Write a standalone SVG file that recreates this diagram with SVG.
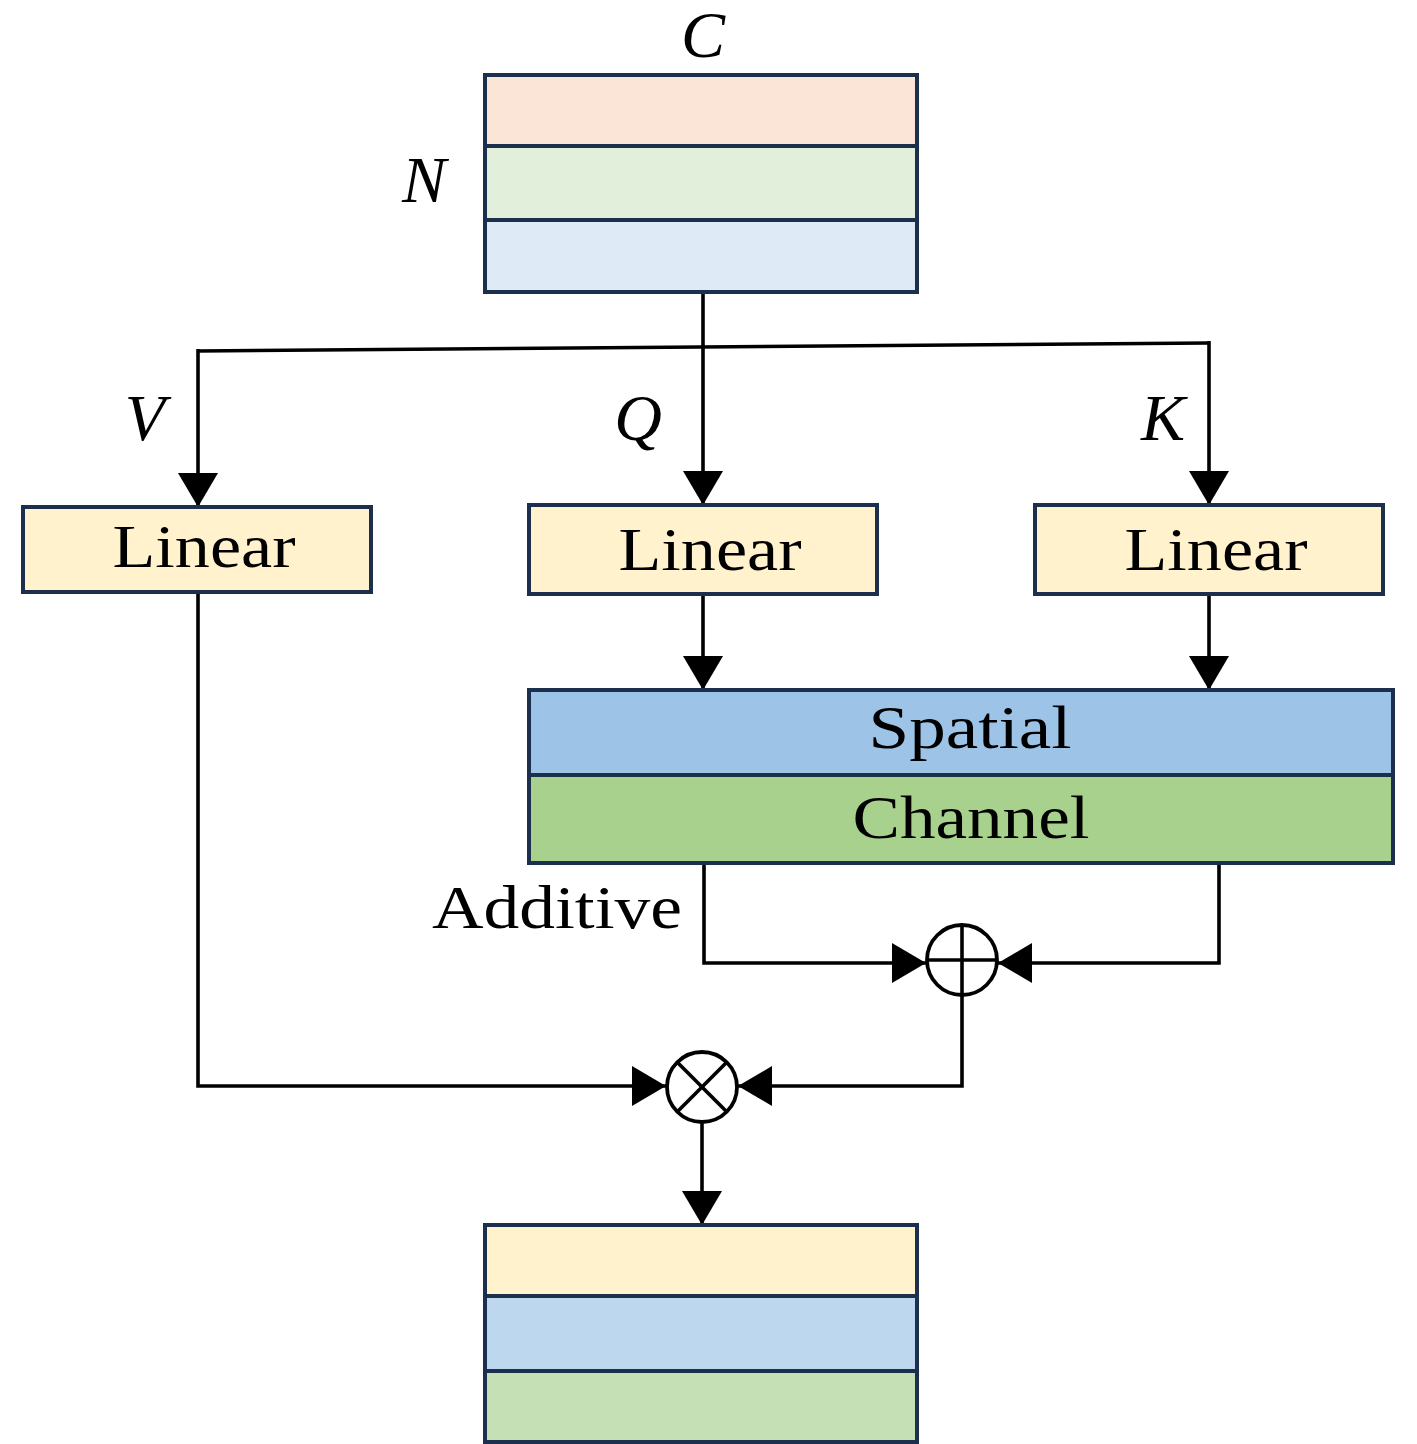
<svg xmlns="http://www.w3.org/2000/svg" width="1417" height="1444" viewBox="0 0 1417 1444">
<style>
.box{stroke:#1c2f4d;stroke-width:4}
.wire{fill:none;stroke:#000;stroke-width:3.6}
.lbl{font-family:"Liberation Serif","Times New Roman",serif;font-size:62px;fill:#000;text-anchor:middle}
.math{font-family:"Liberation Serif","Times New Roman",serif;font-style:italic;font-size:66px;fill:#000;text-anchor:middle}
.op{fill:#fff;stroke:#000;stroke-width:3.8}
</style>
<defs>
<marker id="ah" viewBox="0 0 34 40" refX="34" refY="20" markerWidth="34" markerHeight="40" markerUnits="userSpaceOnUse" orient="auto">
<path d="M0,0 L34,20 L0,40 Z" fill="#000"/>
</marker>
</defs>
<rect width="1417" height="1444" fill="#fff"/>

<g id="connectors">
<line class="wire" x1="703" y1="292" x2="703" y2="505" marker-end="url(#ah)"/>
<line class="wire" x1="198" y1="351" x2="1209" y2="343"/>
<line class="wire" x1="198" y1="349" x2="198" y2="507" marker-end="url(#ah)"/>
<line class="wire" x1="1209" y1="341" x2="1209" y2="505" marker-end="url(#ah)"/>
<line class="wire" x1="703" y1="594" x2="703" y2="690" marker-end="url(#ah)"/>
<line class="wire" x1="1209" y1="594" x2="1209" y2="690" marker-end="url(#ah)"/>
<polyline class="wire" points="704,863 704,963 926,963" marker-end="url(#ah)"/>
<polyline class="wire" points="1219,863 1219,963 998,963" marker-end="url(#ah)"/>
<polyline class="wire" points="198,592 198,1086 666,1086" marker-end="url(#ah)"/>
<polyline class="wire" points="962,996 962,1086 738,1086" marker-end="url(#ah)"/>
<line class="wire" x1="702" y1="1122" x2="702" y2="1225" marker-end="url(#ah)"/>
</g>

<g id="input">
<rect class="box" x="485" y="75" width="432" height="71" fill="#fbe5d6"/>
<rect class="box" x="485" y="146" width="432" height="74" fill="#e2efda"/>
<rect class="box" x="485" y="220" width="432" height="72" fill="#deebf7"/>
<text class="math" x="703" y="57">C</text>
<text class="math" x="424" y="202">N</text>
</g>

<g id="labels">
<text class="math" x="145" y="440">V</text>
<text class="math" x="638" y="440">Q</text>
<text class="math" x="1163" y="440">K</text>
<text class="lbl" x="557" y="928" textLength="250" lengthAdjust="spacingAndGlyphs">Additive</text>
</g>

<g id="linear-v">
<rect class="box" x="23" y="507" width="348" height="85" fill="#fff2cc"/>
<text class="lbl" x="204" y="567" textLength="183" lengthAdjust="spacingAndGlyphs">Linear</text>
</g>
<g id="linear-q">
<rect class="box" x="529" y="505" width="348" height="89" fill="#fff2cc"/>
<text class="lbl" x="710" y="570" textLength="183" lengthAdjust="spacingAndGlyphs">Linear</text>
</g>
<g id="linear-k">
<rect class="box" x="1035" y="505" width="348" height="89" fill="#fff2cc"/>
<text class="lbl" x="1216" y="570" textLength="183" lengthAdjust="spacingAndGlyphs">Linear</text>
</g>

<g id="attention">
<rect class="box" x="529" y="690" width="864" height="85" fill="#9dc3e6"/>
<rect class="box" x="529" y="775" width="864" height="88" fill="#a9d18e"/>
<text class="lbl" x="970" y="748" textLength="203" lengthAdjust="spacingAndGlyphs">Spatial</text>
<text class="lbl" x="971" y="838" textLength="237" lengthAdjust="spacingAndGlyphs">Channel</text>
</g>

<g id="plus">
<circle class="op" cx="962" cy="960" r="35"/>
<line class="wire" x1="927" y1="960" x2="997" y2="960"/>
<line class="wire" x1="962" y1="925" x2="962" y2="995"/>
</g>

<g id="times">
<circle class="op" cx="702" cy="1087" r="35"/>
<line class="wire" x1="677.3" y1="1062.3" x2="726.7" y2="1111.7"/>
<line class="wire" x1="726.7" y1="1062.3" x2="677.3" y2="1111.7"/>
</g>

<g id="output">
<rect class="box" x="485" y="1225" width="432" height="71" fill="#fff2cc"/>
<rect class="box" x="485" y="1296" width="432" height="75" fill="#bdd7ee"/>
<rect class="box" x="485" y="1371" width="432" height="71" fill="#c5e0b4"/>
</g>
</svg>
